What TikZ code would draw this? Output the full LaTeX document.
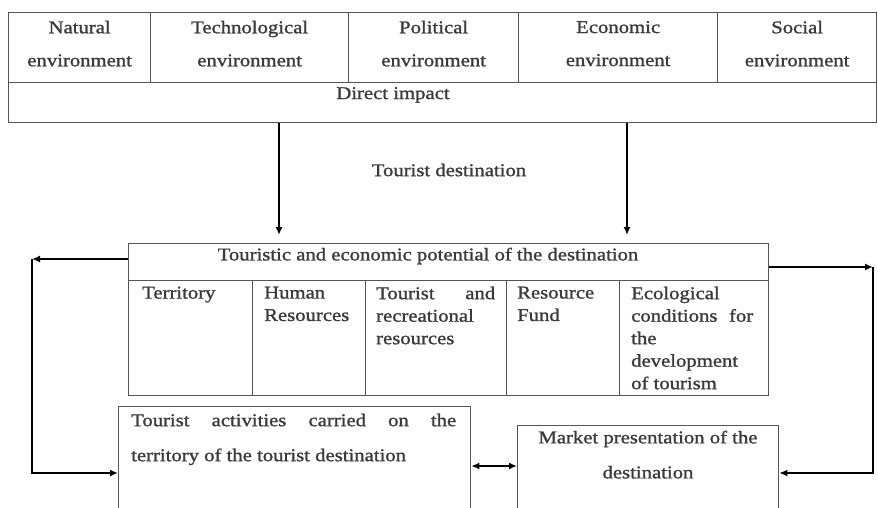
\documentclass[tikz,border=0pt]{standalone}
\usepackage{fontspec}
\setmainfont{Liberation Serif}[FakeStretch=1.15,FakeBold=1.2]
\usetikzlibrary{arrows.meta,calc}
\definecolor{ink}{HTML}{3A3A3A}
\definecolor{rule}{HTML}{555555}
\hyphenpenalty=10000
\exhyphenpenalty=10000
\begin{document}
\begin{tikzpicture}[x=1pt,y=-1pt,
  box/.style={draw=rule,line width=1.3pt,rectangle,inner sep=0pt,anchor=north west},
  hdr/.style={text=ink,align=center,font=\fontsize{18}{33}\selectfont,inner sep=0pt},
  txt/.style={text=ink,font=\fontsize{18}{22.5}\selectfont,inner sep=0pt,anchor=north west},
  conn/.style={draw=black,line width=2pt},
  arr/.style={conn,-{Latex[length=8pt,width=7pt]}},
  dbl/.style={conn,{Latex[length=8pt,width=7pt]}-{Latex[length=8pt,width=7pt]}}]
\useasboundingbox (0,0) rectangle (878,508);
\clip (0,0) rectangle (878,508);
\fill[white] (0,0) rectangle (878,508);
% top table
\node[box,minimum width=142,minimum height=70] (b1) at (8,12) {};
\node[box,minimum width=198,minimum height=70] (b2) at (150,12) {};
\node[box,minimum width=170,minimum height=70] (b3) at (348,12) {};
\node[box,minimum width=199,minimum height=70] (b4) at (518,12) {};
\node[box,minimum width=159,minimum height=70] (b5) at (717,12) {};
\node[box,minimum width=868,minimum height=40] (improw) at (8,82) {};
\node[hdr] (n1) at ($(b1.center)+(0,-4)$) {Natural\\environment};
\node[hdr] (n2) at ($(b2.center)+(0,-4)$) {Technological\\environment};
\node[hdr] (n3) at ($(b3.center)+(0,-4)$) {Political\\environment};
\node[hdr] (n4) at ($(b4.center)+(0,-4)$) {Economic\\environment};
\node[hdr] (n5) at ($(b5.center)+(0,-4)$) {Social\\environment};
\node[hdr] (impact) at (393,95) {Direct impact};
\node[hdr] (dest) at (449,170) {Tourist destination};
% middle box
\node[box,minimum width=640,minimum height=37] (potT) at (128,243) {};
\node[box,minimum width=124,minimum height=115] (k1) at (128,280) {};
\node[box,minimum width=113,minimum height=115] (k2) at (252,280) {};
\node[box,minimum width=141,minimum height=115] (k3) at (365,280) {};
\node[box,minimum width=113,minimum height=115] (k4) at (506,280) {};
\node[box,minimum width=149,minimum height=115] (k5) at (619,280) {};
\node[hdr] (title) at (428,256) {Touristic and economic potential of the destination};
\node[txt,text width=100] (c1) at (142,286.5) {Territory};
\node[txt,text width=100,align=left] (c2) at (264,286.5) {Human\\Resources};
\node[txt,text width=119,align=justify] (c3) at (376,286.5) {Tourist and\linebreak recreational\\resources};
\node[txt,text width=95,align=left] (c4) at (517,286.5) {Resource\\Fund};
\node[txt,text width=122,align=justify] (c5) at (631,286.5) {Ecological\\conditions for\linebreak the\\development\\of tourism};
% bottom boxes
\node[box,minimum width=352,minimum height=130] (act) at (118,406) {};
\node[box,minimum width=261,minimum height=83] (mkt) at (517,425) {};
\node[txt,text width=325,align=justify,font=\fontsize{18}{35}\selectfont] (acttxt) at (131,413.5) {Tourist activities carried on the\linebreak territory of the tourist destination};
\node[hdr,anchor=north,font=\fontsize{18}{35}\selectfont] (mkttxt) at (648,430.5) {Market presentation of the\\destination};
% connectors
\coordinate (a1) at (279,0);
\coordinate (a2) at (627,0);
\draw[arr,shorten >=8pt] (improw.south -| a1) -- (potT.north -| a1);
\draw[arr,shorten >=8pt] (improw.south -| a2) -- (potT.north -| a2);
\coordinate (cl) at (32,259);
\coordinate (cl2) at (32,473);
\coordinate (cr) at (873,267);
\coordinate (cr2) at (873,473);
\coordinate (dm) at (494,466);
\draw[arr] (cl -| potT.west) -- (cl);
\draw[arr] (cl) -- (cl2) -- (cl2 -| act.west);
\draw[arr] (cr -| potT.east) -- (cr);
\draw[arr] (cr) -- (cr2) -- (cr2 -| mkt.east);
\draw[dbl] (dm -| act.east) -- (dm -| mkt.west);
\end{tikzpicture}
\end{document}
